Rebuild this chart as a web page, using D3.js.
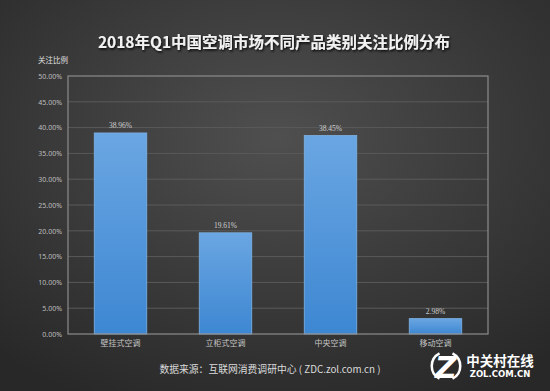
<!DOCTYPE html>
<html><head><meta charset="utf-8">
<script src="https://cdn.jsdelivr.net/npm/d3@7/dist/d3.min.js"></script>
<style>html,body{margin:0;padding:0;background:#333;}svg{display:block;}</style>
</head><body>
<script>
const categories = ["壁挂式空调", "立柜式空调", "中央空调", "移动空调"];
const values = [38.96, 19.61, 38.45, 2.98];
const yTicks = [0, 5, 10, 15, 20, 25, 30, 35, 40, 45, 50];
const title = "2018年Q1中国空调市场不同产品类别关注比例分布";
const yTitle = "关注比例";
const source = "数据来源：互联网消费调研中心 ( ZDC.zol.com.cn )";

const W = 550, H = 391;
const m = {left: 68, right: 62, top: 76, bottom: 57};
const svg = d3.select("body").append("svg").attr("width", W).attr("height", H);
const defs = svg.append("defs");
const bg = defs.append("radialGradient").attr("id", "bg").attr("cx", "50%").attr("cy", "35%").attr("r", "75%");
bg.append("stop").attr("offset", "0%").attr("stop-color", "#4f4f4f");
bg.append("stop").attr("offset", "100%").attr("stop-color", "#282828");
const bar = defs.append("linearGradient").attr("id", "bar").attr("x1", 0).attr("y1", 0).attr("x2", 0).attr("y2", 1);
bar.append("stop").attr("offset", "0%").attr("stop-color", "#6aa6e2");
bar.append("stop").attr("offset", "100%").attr("stop-color", "#3d87d2");
const sh = defs.append("filter").attr("id", "sh").attr("x", "-10%").attr("y", "-30%").attr("width", "120%").attr("height", "160%");
sh.append("feDropShadow").attr("dx", 1).attr("dy", 1.5).attr("stdDeviation", 1.2).attr("flood-color", "#000").attr("flood-opacity", 0.9);

svg.append("rect").attr("width", W).attr("height", H).attr("fill", "url(#bg)");

const x = d3.scaleBand().domain(categories).range([m.left, W - m.right]).paddingInner(0.5).paddingOuter(0.25);
const y = d3.scaleLinear().domain([0, 50]).range([H - m.bottom, m.top]);

// gridlines
svg.append("g").selectAll("line").data(yTicks.slice(1, -1)).join("line")
  .attr("x1", m.left).attr("x2", W - m.right)
  .attr("y1", d => y(d)).attr("y2", d => y(d))
  .attr("stroke", "#5a5a5a").attr("stroke-width", 1);

// y axis labels
const yAxis = d3.axisLeft(y).tickValues(yTicks).tickFormat(d => d.toFixed(2) + "%").tickSize(0).tickPadding(6);
const ya = svg.append("g").attr("transform", `translate(${m.left},0)`).call(yAxis);
ya.select(".domain").remove();
ya.selectAll("text").attr("fill", "#bdbdbd").style("font-family", "'Noto Sans', sans-serif").style("font-size", "7px");

// bars
svg.append("g").selectAll("rect").data(values).join("rect")
  .attr("x", (d, i) => x(categories[i])).attr("width", x.bandwidth())
  .attr("y", d => y(d)).attr("height", d => y(0) - y(d))
  .attr("fill", "url(#bar)").attr("stroke", "#7fb3e6").attr("stroke-width", 0.8);

// value labels
svg.append("g").selectAll("text").data(values).join("text")
  .attr("x", (d, i) => x(categories[i]) + x.bandwidth() / 2).attr("y", d => y(d) - 5)
  .attr("text-anchor", "middle").attr("fill", "#d0d0d0")
  .style("font-family", "'Liberation Serif', serif").style("font-size", "7.5px")
  .text(d => d.toFixed(2) + "%");

// frame
svg.append("rect").attr("x", m.left).attr("y", m.top)
  .attr("width", W - m.right - m.left).attr("height", H - m.bottom - m.top)
  .attr("fill", "none").attr("stroke", "#8c8c8c").attr("stroke-width", 1.2);

// x axis labels
const xAxis = d3.axisBottom(x).tickSize(0).tickPadding(6);
const xa = svg.append("g").attr("transform", `translate(0,${H - m.bottom})`).call(xAxis);
xa.select(".domain").remove();
xa.selectAll("text").attr("fill", "#c4c4c4").style("font-family", "'Noto Sans CJK SC', sans-serif").style("font-size", "8px");

// titles
svg.append("text").attr("x", 274).attr("y", 48).attr("text-anchor", "middle")
  .attr("fill", "#f2f2f2").attr("filter", "url(#sh)")
  .style("font-family", "'Noto Sans CJK SC', sans-serif").style("font-size", "15.5px").style("font-weight", "bold")
  .text(title);
svg.append("text").attr("x", 38).attr("y", 63)
  .attr("fill", "#e0e0e0")
  .style("font-family", "'Noto Sans CJK SC', sans-serif").style("font-size", "7.5px")
  .text(yTitle);
svg.append("text").attr("x", 270).attr("y", 373).attr("text-anchor", "middle")
  .attr("fill", "#dcdcdc")
  .style("font-family", "'Noto Sans CJK SC', sans-serif").style("font-size", "9.8px")
  .text(source);

// logo
const lg = svg.append("g");
const arcL = d3.arc().innerRadius(13).outerRadius(15.5).startAngle(-Math.PI * 0.85).endAngle(-Math.PI * 0.15);
const arcR = d3.arc().innerRadius(13).outerRadius(15.5).startAngle(Math.PI * 0.15).endAngle(Math.PI * 0.85);
lg.append("path").attr("transform", "translate(446,366)").attr("d", arcL()).attr("fill", "#fff");
lg.append("path").attr("transform", "translate(446,366)").attr("d", arcR()).attr("fill", "#fff");
lg.append("text").attr("x", 446).attr("y", 378).attr("text-anchor", "middle")
  .attr("fill", "#fff").style("font-family", "'DejaVu Sans', sans-serif").style("font-size", "30px").style("font-weight", "bold").style("font-style", "italic")
  .text("Z");
lg.append("text").attr("x", 500).attr("y", 366).attr("text-anchor", "middle")
  .attr("fill", "#fff").style("font-family", "'Noto Sans CJK SC', sans-serif").style("font-size", "13.5px").style("font-weight", "bold")
  .text("中关村在线");
lg.append("text").attr("x", 500).attr("y", 377).attr("text-anchor", "middle")
  .attr("fill", "#fff").style("font-family", "'DejaVu Sans', sans-serif").style("font-size", "8.5px").style("font-weight", "bold")
  .text("ZOL.COM.CN");
</script>
</body></html>
